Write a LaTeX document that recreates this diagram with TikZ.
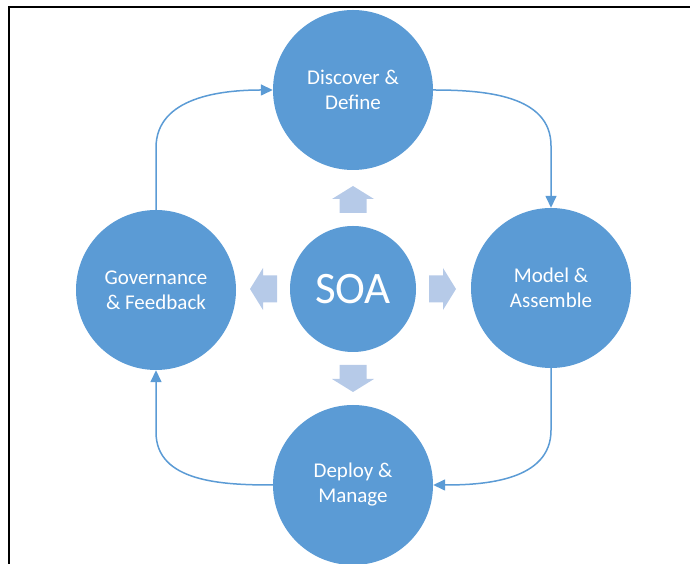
\documentclass[tikz,border=0pt]{standalone}
\usepackage{fontspec}
\setmainfont{Carlito}
\usetikzlibrary{arrows.meta,calc}

\definecolor{soablue}{RGB}{91,155,213}
\definecolor{soalight}{RGB}{182,202,232}

\tikzset{
    phase/.style={circle, fill=soablue, minimum size=160pt, inner sep=0pt,
        text=white, align=center, font=\fontsize{21}{25}\selectfont},
    flow/.style={draw=soablue, line width=1.5pt,
        -{Triangle[length=12pt,width=11pt]}},
    blockarrow/.style={fill=soalight}
}

\begin{document}
\begin{tikzpicture}[x=1pt,y=1pt]
        \useasboundingbox (0,0) rectangle (690,564);

        % Frame
        \draw[line width=2.5pt] (690,557) -- (9,557) -- (9,0);

        % Centre and the four phases
        \node[phase, minimum size=126pt, font=\fontsize{45}{54}\selectfont] (soa) at (353,275) {SOA};
        \node[phase] (disc) at (353,474) {Discover \&\\Define};
        \node[phase] (model) at (551,276) {Model \&\\Assemble};
        \node[phase] (deploy) at (353,79) {Deploy \&\\Manage};
        \node[phase] (gov) at (156,274) {Governance\\\& Feedback};

        % Block arrows round the centre
        \begin{scope}[shift={(soa.center)}]
            \foreach \ang in {0,90,180,270} {
                \fill[blockarrow, rotate=\ang]
                    (76,-13.5) -- (90,-13.5) -- (90,-21) -- (103,0)
                    -- (90,21) -- (90,13.5) -- (76,13.5) -- cycle;
            }
        \end{scope}

        % Cycle connectors
        \draw[flow] (gov.north) -- ++(0,62) to[out=90,in=180] (disc.west);
        \draw[flow] (disc.east) to[out=0,in=90] ($(model.north)+(0,62)$) -- (model.north);
        \draw[flow] (model.south) -- ++(0,-62) to[out=-90,in=0] (deploy.east);
        \draw[flow] (deploy.west) to[out=180,in=-90] ($(gov.south)+(0,-62)$) -- (gov.south);
\end{tikzpicture}
\end{document}
